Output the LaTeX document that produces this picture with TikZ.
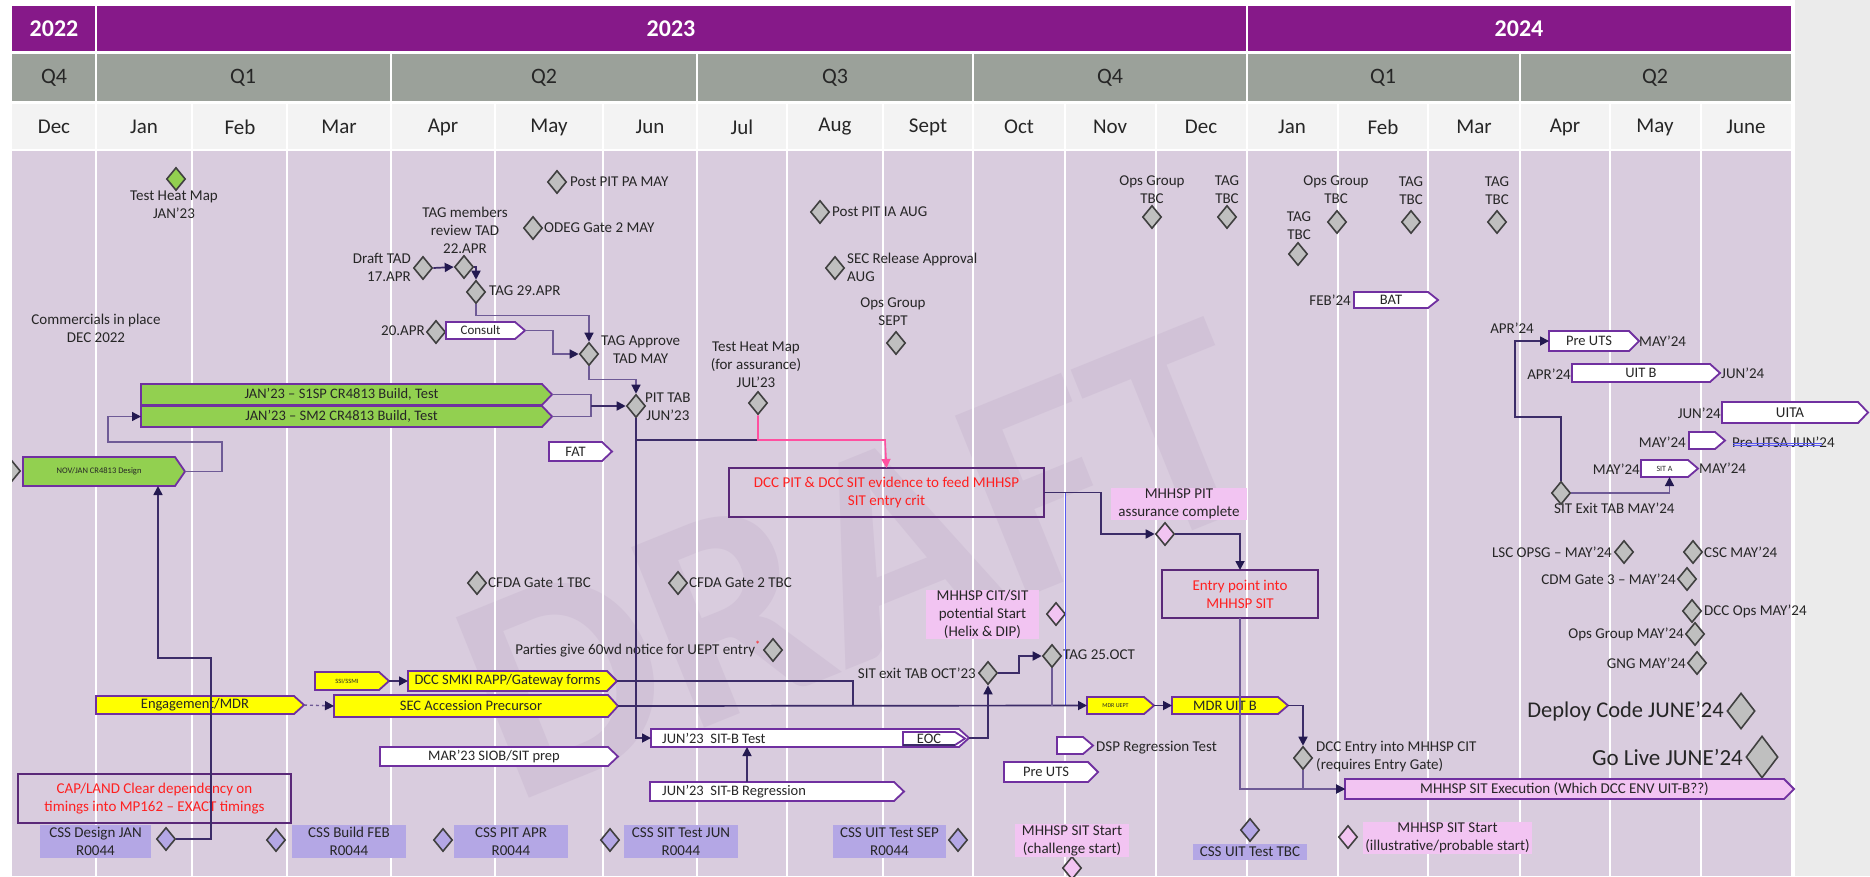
\documentclass[tikz,border=0pt]{standalone}
\usepackage{fontspec}
\setmainfont{Carlito}
\usetikzlibrary{shapes.geometric,arrows.meta}
\definecolor{yearc}{RGB}{134,25,137}
\definecolor{qc}{RGB}{155,161,154}
\definecolor{mc}{RGB}{243,243,243}
\definecolor{bodyc}{RGB}{217,204,222}
\definecolor{panel}{RGB}{235,235,235}
\definecolor{wmc}{RGB}{209,194,215}
\definecolor{txt}{RGB}{38,38,38}
\definecolor{bdr}{RGB}{112,48,160}
\definecolor{lnc}{RGB}{60,44,104}
\definecolor{lnl}{RGB}{110,90,150}
\definecolor{arc}{RGB}{35,25,80}
\definecolor{gfill}{RGB}{191,191,191}
\definecolor{dgray}{RGB}{64,64,64}
\definecolor{grn}{RGB}{146,208,80}
\definecolor{yel}{RGB}{255,255,0}
\definecolor{pnk}{RGB}{242,196,242}
\definecolor{lav}{RGB}{180,167,229}
\definecolor{redt}{RGB}{255,32,32}
\definecolor{pinkln}{RGB}{255,80,160}
\definecolor{bluel}{RGB}{90,90,240}
\definecolor{boxb}{RGB}{90,40,120}
\tikzset{
 lbl/.style={font=\fontsize{15}{18}\selectfont, text=txt, inner sep=1pt, align=center},
 btx/.style={font=\fontsize{14.5}{17}\selectfont, text=txt, inner sep=0pt},
 gd/.style={diamond, draw=dgray, fill=gfill, line width=1.6pt, minimum width=19pt, minimum height=23pt, inner sep=0pt},
 pd/.style={gd, fill=pnk},
 ld/.style={gd, fill=lav},
 grd/.style={gd, fill=grn},
 abx/.style={draw=bdr, line width=1.8pt, line join=miter},
 cn/.style={draw=lnc, line width=1.7pt},
 cnl/.style={draw=lnl, line width=1.4pt},
 arr/.style={-{Triangle[length=9pt,width=9pt,color=arc]}},
 parr/.style={-{Triangle[length=9pt,width=9pt,color=pinkln]}},
 hbox/.style={inner sep=0pt, outer sep=0pt},
 pinkbox/.style={fill=pnk},
 lavbox/.style={fill=lav},
 redbox/.style={draw=boxb, line width=2pt, text=redt},
 hdr/.style={font=\fontsize{22}{24}\selectfont, text=txt},
}
\newcommand\abox[8][]{%
  \node[hbox, minimum width={(#4)-(#3)}, minimum height={(#6)-(#5)}] (#2) at ({((#3)+(#4))/2},{((#5)+(#6))/2}) {};
  \draw[abx,#7] (#2.north west) -- ([xshift=-10pt]#2.north east) -- (#2.east) -- ([xshift=-10pt]#2.south east) -- (#2.south west) -- cycle;
  \node[btx,#1] (#2-t) at ([xshift=-5pt]#2.center) {#8};
}
\newcommand\rbox[7]{\node[lbl, hbox, minimum width={(#4)-(#2)}, minimum height={(#5)-(#3)}, #6] (#1) at ({((#2)+(#4))/2},{((#3)+(#5))/2}) {#7};}
\begin{document}
\begin{tikzpicture}[x=1pt,y=-1pt]
\useasboundingbox (0,0) rectangle (1870,876);
\fill[white] (0,0) rectangle (1870,876);
\fill[panel] (1795,0) rectangle (1870,876);
% header
\fill[yearc] (12,6) rectangle (1791,51);
\fill[qc] (12,54) rectangle (1791,101);
\fill[mc] (12,104) rectangle (1791,149);
\fill[bodyc] (12,151) rectangle (1791,876);
% watermark and edge diamond (clipped to the body)
\begin{scope}
\clip (12,151) rectangle (1791,876);
\node[rotate=22, font=\fontsize{300}{300}\selectfont\bfseries, text=wmc] (wm) at (860,560) {DRAFT};
\node[diamond, draw=dgray, fill=gfill, line width=1.6pt, minimum width=19pt, minimum height=23pt, inner sep=0pt] (leftcut) at (11,471) {};
\end{scope}
\foreach \x in {96,1247} \draw[white,line width=2.5pt] (\x,6) -- (\x,51);
\foreach \x in {96,391,697,973,1247,1520} \draw[white,line width=2.5pt] (\x,54) -- (\x,101);
\foreach \x in {96,192,287,391,495,603,697,787,883,973,1065,1156,1247,1338,1428,1520,1610,1701} {
  \draw[white,line width=2.5pt] (\x,104) -- (\x,149);
  \draw[white,line width=2pt] (\x,151) -- (\x,876);}
\node[font=\fontsize{24}{26}\selectfont\bfseries, text=white] (y22) at (54,29) {2022};
\node[font=\fontsize{24}{26}\selectfont\bfseries, text=white] (y23) at (671,29) {2023};
\node[font=\fontsize{24}{26}\selectfont\bfseries, text=white] (y24) at (1519,29) {2024};
\foreach \q/\x [count=\i] in {Q4/54,Q1/243,Q2/544,Q3/835,Q4/1110,Q1/1383,Q2/1655}
  \node[hdr] (q\i) at (\x,78) {\q};
\foreach \m/\x [count=\i] in {Dec/54,Jan/144,Feb/240,Mar/339,Apr/443,May/549,Jun/650,Jul/742,Aug/835,Sept/928,Oct/1019,Nov/1110,Dec/1201,Jan/1292,Feb/1383,Mar/1474,Apr/1565,May/1655,June/1746}
  \node[hdr, font=\fontsize{21}{23}\selectfont] (m\i) at (\x,127) {\m};

% ---------- diamonds ----------
\node[grd] (heatjan) at (176,179) {};
\node[gd] (draft) at (423,268) {};
\node[gd] (tag22) at (464,267) {};
\node[gd] (tag29) at (476,292) {};
\node[gd] (apr20) at (436,332) {};
\node[gd] (tagappr) at (589,354) {};
\node[gd] (pittab) at (636,406) {};
\node[gd] (postpa) at (557,182) {};
\node[gd] (odeg) at (533,228) {};
\node[gd] (heatjul) at (758,403) {};
\node[gd] (postia) at (820,212) {};
\node[gd] (secrel) at (835,268) {};
\node[gd] (opssept) at (896,343) {};
\node[gd] (opsnov) at (1152,217) {};
\node[gd] (tagdec) at (1227,217) {};
\node[gd] (tagjan) at (1298,254) {};
\node[gd] (opsjan) at (1337,222) {};
\node[gd] (tagfeb) at (1411,222) {};
\node[gd] (tagmar) at (1497,222) {};
\node[gd] (cfda1) at (477,583) {};
\node[gd] (cfda2) at (678,583) {};
\node[gd] (parties) at (773,650) {};
\node[gd] (sitexit) at (988,673) {};
\node[gd] (tag25) at (1052,656) {};
\node[pd] (citsit) at (1056,614) {};
\node[pd] (pitdia) at (1165,534) {};
\node[gd] (dccentry) at (1303,758) {};
\node[gd] (sitexit24) at (1561,493) {};
\node[gd] (lsc) at (1624,552) {};
\node[gd] (csc) at (1693,552) {};
\node[gd] (cdm) at (1687,579) {};
\node[gd] (dccops) at (1692,611) {};
\node[gd] (opsmay) at (1695,634) {};
\node[gd] (gng) at (1697,663) {};
\node[gd, minimum width=28pt, minimum height=36pt] (deploy) at (1741,711) {};
\node[gd, minimum width=32pt, minimum height=42pt] (golive) at (1762,757) {};
\node[ld] (cssdia1) at (166,839) {};
\node[ld] (cssdia2) at (276,840) {};
\node[ld] (cssdia3) at (443,840) {};
\node[ld] (cssdia4) at (610,840) {};
\node[ld] (cssdia5) at (958,840) {};
\node[ld] (cssuit) at (1250,830) {};
\node[pd] (sitstart1) at (1072,868) {};
\node[pd] (sitstart2) at (1348,837) {};

% ---------- labels ----------
\node[lbl] (l-heatjan) at (174,205) {Test Heat Map\\JAN'23};
\node[lbl] (l-comm) at (96,328) {Commercials in place\\DEC 2022};
\node[lbl, anchor=east, align=right] (l-draft) at (412,267) {Draft TAD\\17.APR};
\node[lbl] (l-tag22) at (465,230) {TAG members\\review TAD\\22.APR};
\node[lbl, anchor=west] (l-tag29) at (488,291) {TAG 29.APR};
\node[lbl, anchor=east] (l-apr20) at (426,331) {20.APR};
\node[lbl, anchor=west] (l-tagappr) at (600,350) {TAG Approve\\TAD MAY};
\node[lbl, anchor=west] (l-pittab) at (644,407) {PIT TAB\\JUN'23};
\node[lbl, anchor=west] (l-postpa) at (569,182) {Post PIT PA MAY};
\node[lbl, anchor=west] (l-odeg) at (543,228) {ODEG Gate 2 MAY};
\node[lbl] (l-heatjul) at (756,365) {Test Heat Map\\(for assurance)\\JUL'23};
\node[lbl, anchor=west] (l-postia) at (831,212) {Post PIT IA AUG};
\node[lbl, anchor=west, align=left] (l-secrel) at (846,267) {SEC Release Approval\\AUG};
\node[lbl] (l-opssept) at (893,312) {Ops Group\\SEPT};
\node[lbl] (l-opsnov) at (1152,190) {Ops Group\\TBC};
\node[lbl] (l-tagdec) at (1227,190) {TAG\\TBC};
\node[lbl] (l-tagjan) at (1299,226) {TAG\\TBC};
\node[lbl] (l-opsjan) at (1336,190) {Ops Group\\TBC};
\node[lbl] (l-tagfeb) at (1411,191) {TAG\\TBC};
\node[lbl] (l-tagmar) at (1497,191) {TAG\\TBC};
\node[lbl, anchor=east] (l-feb24) at (1352,300) {FEB'24};
\node[lbl] (l-apr24a) at (1512,328) {APR'24};
\node[lbl, anchor=west] (l-may24a) at (1638,341) {MAY'24};
\node[lbl, anchor=east] (l-apr24b) at (1572,374) {APR'24};
\node[lbl, anchor=west] (l-jun24b) at (1720,373) {JUN'24};
\node[lbl, anchor=east] (l-jun24c) at (1722,413) {JUN'24};
\node[lbl, anchor=east] (l-may24d) at (1687,442) {MAY'24};
\node[lbl, anchor=west] (l-preutsa) at (1731,442) {Pre UTSA JUN'24};
\draw[bluel, line width=1pt] ([xshift=2pt,yshift=3pt]l-preutsa.south west) -- ++(89,0);
\draw[bluel, line width=1pt] ([xshift=2pt,yshift=-1pt]l-preutsa.west) -- ++(89,0);
\node[lbl, anchor=east] (l-may24e) at (1641,469) {MAY'24};
\node[lbl, anchor=west] (l-may24f) at (1698,468) {MAY'24};
\node[lbl, anchor=west] (l-sitexit24) at (1553,508) {SIT Exit TAB MAY'24};
\node[lbl, anchor=east] (l-lsc) at (1613,552) {LSC OPSG – MAY'24};
\node[lbl, anchor=west] (l-csc) at (1703,552) {CSC MAY'24};
\node[lbl, anchor=east] (l-cdm) at (1677,579) {CDM Gate 3 – MAY'24};
\node[lbl, anchor=west] (l-dccops) at (1703,611) {DCC Ops MAY'24};
\node[lbl, anchor=east] (l-opsmay) at (1685,634) {Ops Group MAY'24};
\node[lbl, anchor=east] (l-gng) at (1687,663) {GNG MAY'24};
\node[lbl, anchor=east, font=\fontsize{22.5}{26}\selectfont] (l-deploy) at (1725,711) {Deploy Code JUNE'24};
\node[lbl, anchor=east, font=\fontsize{23}{27}\selectfont] (l-golive) at (1744,757) {Go Live JUNE'24};
\node[lbl, anchor=west] (l-cfda1) at (487,583) {CFDA Gate 1 TBC};
\node[lbl, anchor=west] (l-cfda2) at (688,583) {CFDA Gate 2 TBC};
\node[lbl, anchor=east] (l-parties) at (762,649) {Parties give 60wd notice for UEPT entry\textcolor{redt}{\textsuperscript{*}}};
\node[lbl, anchor=east] (l-sitexit) at (977,673) {SIT exit TAB OCT'23};
\node[lbl, anchor=west] (l-tag25) at (1062,655) {TAG 25.OCT};
\node[lbl, anchor=west, align=left] (l-dccentry) at (1315,757) {DCC Entry into MHHSP CIT\\(requires Entry Gate)};
\node[lbl, anchor=west] (l-dsp) at (1095,748) {DSP Regression Test};

% ---------- filled / outline label boxes ----------
\rbox{pitbox}{1111}{488}{1247}{520}{pinkbox}{MHHSP PIT\\assurance complete}
\rbox{citbox}{926}{590}{1039}{639}{pinkbox}{MHHSP CIT/SIT\\potential Start\\(Helix \& DIP)}
\rbox{start1box}{1015}{824}{1129}{857}{pinkbox}{MHHSP SIT Start\\(challenge start)}
\rbox{start2box}{1363}{822}{1532}{854}{pinkbox}{MHHSP SIT Start\\(illustrative/probable start)}
\rbox{css1}{40}{825}{151}{858}{lavbox}{CSS Design JAN\\R0044}
\rbox{css2}{292}{825}{406}{858}{lavbox}{CSS Build FEB\\R0044}
\rbox{css3}{454}{825}{568}{858}{lavbox}{CSS PIT APR\\R0044}
\rbox{css4}{624}{825}{738}{858}{lavbox}{CSS SIT Test JUN\\R0044}
\rbox{css5}{833}{825}{946}{858}{lavbox}{CSS UIT Test SEP\\R0044}
\rbox{css6}{1193}{844}{1307}{860}{lavbox}{CSS UIT Test TBC}
\rbox{dcc}{729}{468}{1044}{517}{redbox}{DCC PIT \& DCC SIT evidence to feed MHHSP\\SIT entry crit}
\rbox{entry}{1162}{570}{1318}{618}{redbox}{Entry point into\\MHHSP SIT}
\rbox{cap}{18}{774}{291}{823}{redbox}{CAP/LAND Clear dependency on\\timings into MP162 – EXACT timings}

% ---------- arrow boxes ----------
\abox[font=\fontsize{8.5}{10}\selectfont]{nov}{23}{185}{457}{486}{fill=grn}{NOV/JAN CR4813 Design}
\abox{s1sp}{141}{552}{384}{405}{fill=grn}{JAN'23 – S1SP CR4813 Build, Test}
\abox{sm2}{141}{552}{406}{427}{fill=grn}{JAN'23 – SM2 CR4813 Build, Test}
\abox[font=\fontsize{13}{15}\selectfont]{consult}{446}{525}{322}{339}{fill=white}{Consult}
\abox{fat}{549}{612}{442}{461}{fill=white}{FAT}
\abox{eng}{96}{304}{696}{714}{fill=yel}{Engagement/MDR}
\abox{sec}{334}{618}{695}{717}{fill=yel}{SEC Accession Precursor}
\abox[font=\fontsize{6.5}{8}\selectfont]{ssi}{315}{389}{672}{690}{fill=yel}{SSI/SSMI}
\abox{smki}{408}{617}{671}{691}{fill=yel}{DCC SMKI RAPP/Gateway forms}
\abox{siob}{380}{618}{747}{766}{fill=white}{MAR'23 SIOB/SIT prep}
\abox{sitb}{651}{969}{729}{747}{fill=white}{}
\node[btx, anchor=west] (sitb-l) at (662,738) {JUN'23\ \ SIT-B Test};
\abox{eoc}{903}{965}{732}{745}{fill=white}{EOC}
\draw[draw=lnc, line width=2.2pt] (eoc.south west) -- ([xshift=-10pt]eoc.south east);
\abox{sitbreg}{650}{904}{782}{801}{fill=white}{}
\node[btx, anchor=west] (sitbreg-l) at (662,792) {JUN'23\ \ SIT-B Regression};
\abox{dsp}{1057}{1093}{737}{754}{fill=white}{}
\abox{preuts1}{1004}{1098}{762}{782}{fill=white}{Pre UTS}
\abox[font=\fontsize{6}{7}\selectfont]{mdruept}{1087}{1154}{697}{714}{fill=yel}{MDR UEPT}
\abox{mdruitb}{1172}{1288}{697}{714}{fill=yel}{MDR UIT B}
\abox[font=\fontsize{15}{17}\selectfont]{sitexec}{1345}{1794}{779}{799}{fill=pnk}{MHHSP SIT Execution (Which DCC ENV UIT-B??)}
\abox{bat}{1354}{1438}{292}{308}{fill=white}{BAT}
\abox{preuts24}{1549}{1639}{331}{351}{fill=white}{Pre UTS}
\abox{uitb}{1572}{1720}{364}{382}{fill=white}{UIT B}
\abox[font=\fontsize{15}{17}\selectfont]{uita}{1722}{1868}{402}{423}{fill=white}{UITA}
\abox{preutsa}{1689}{1725}{432}{449}{fill=white}{}
\abox[font=\fontsize{8}{9}\selectfont]{sita}{1641}{1698}{460}{477}{fill=white}{SIT A}

% ---------- junction coordinates ----------
\coordinate (j1) at (591,406);
\coordinate (j2) at (636,440);
\coordinate (j3) at (885,440);
\coordinate (j4) at (1101,492.5);
\coordinate (j5) at (1065,492.5);
\coordinate (j6) at (1065,706);
\coordinate (j7) at (853,706);
\coordinate (j8) at (1052,706);

% ---------- connectors ----------
\draw[cnl,arr] (nov.east) -- (222,471.5) -- (222,442) -- (108,442) |- (sm2.west);
\draw[cnl] (s1sp.east) -| (591,416.5) -- (sm2.east);
\draw[cn,arr] (j1) -- (pittab.west);
\draw[cnl,arr] (tagappr.south) -- ++(0,13) -| (pittab.north);
\draw[cnl,arr] (tag29.south) -- ++(0,11) -| (tagappr.north);
\draw[cn,arr] (draft.east) -- (tag22.west);
\draw[cn,arr] (tag22.east) -| (tag29.north);
\draw[cnl,arr] (consult.east) -- ++(28,0) |- (tagappr.west);
\draw[cn,arr] (pittab.south) |- (sitb.west);
\draw[cn] (j2) -- (j3);
\draw[draw=pinkln, line width=1.6pt, parr] (heatjul.south) |- (j3) -- (dcc.north);
\draw[cn,arr] (dcc.east) -- (j4) |- (pitdia.west);
\draw[bluel, line width=1pt] (j5) -- (j6);
\draw[cn,arr] (pitdia.east) -| (entry.north);
\draw[cnl,arr] (entry.south) |- (sitexec.west);
\draw[cn,arr] (mdruitb.east) -| (dccentry.north);
\draw[cnl,arr] (dccentry.south) |- (sitexec.west);
\draw[cn,arr] (mdruept.east) -- (mdruitb.west);
\draw[cn,arr] (sec.east) -- (mdruept.west);
\draw[cn] (smki.east) -| (j7);
\draw[cnl] (tag25.south) -- (j8);
\draw[cn,arr] (sitexit.east) -- ++(21,0) |- (tag25.west);
\draw[cn,arr] (sitb.east) -| (sitexit.south);
\draw[cn,arr] ([xshift=-30pt]sitbreg.north) -- ([xshift=-30pt]sitbreg.north |- sitb.south);
\draw[cn,arr] (ssi.east) -- (smki.west);
\draw[cnl,dashed,arr] (eng.east) -- (sec.west);
\draw[cn,arr] (cssdia1.east) -| (211,658) -| ([xshift=54pt]nov.south);
\draw[cn,arr] (sitexit24.north) |- (1515,417) |- (preuts24.west);
\draw[cnl,arr] (sitexit24.east) -| (sita.south);
\end{tikzpicture}
\end{document}
